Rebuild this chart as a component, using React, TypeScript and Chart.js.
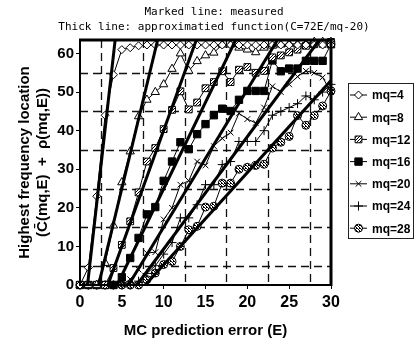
import React, { useEffect, useRef } from 'react';
import { Chart, registerables } from 'chart.js';
import { drawPoint } from 'chart.js/helpers';

Chart.register(...registerables);

// ---------------- data ----------------
const TITLE_LINES = ['Marked line: measured', 'Thick line: approximatied function(C=72E/mq-20)'];
const X_TITLE = 'MC prediction error (E)';
const Y_TITLE = ['Highest frequency location', '(C\u0304(mq,E)  +  \u03C1(mq,E))'];

const SERIES_LABELS = ['mq=4', 'mq=8', 'mq=12', 'mq=16', 'mq=20', 'mq=24', 'mq=28'];

const E_VALUES = [0, 1, 2, 3, 4, 5, 6, 7, 8, 9, 10, 11, 12, 13, 14, 15, 16, 17, 18, 19, 20, 21, 22, 23, 24, 25, 26, 27, 28, 29, 30];

const MQ4 = [0, 4.5, 23, 44, 54.5, 61, 61.5, 62, 62.2, 62.2, 62.2, 62.2, 62.2, 62.2, 62.2, 62.2, 62.2, 62.2, 62.2, 62.2, 62.2, 62.2, 62.2, 62.2, 62.2, 62.2, 62.2, 62.2, 62.2, 62.2, 62.2];
const MQ8 = [0, 0, 0, 5.7, 15.4, 26.6, 34.6, 43.7, 48, 50, 52, 56, 60, 55.5, 58, 59.5, 60.2, 62.3, 62.3, 61.5, 61, 60.3, 61.5, 62, 62.3, 62.5, 62.5, 62.5, 63, 63, 63];
const MQ12 = [0, 0, 0, 0, 4.4, 10.4, 16.5, 24, 32, 35.5, 40.4, 45.4, 50.2, 45.5, 47.3, 51, 52.6, 55.4, 52.6, 55.8, 56.5, 55, 55.5, 59, 59.5, 60.3, 61, 62, 62.4, 62.5, 63];
const MQ16 = [0, 0, 0, 0, 0, 2, 7, 12.2, 18.3, 20.2, 27, 32, 37, 35.2, 39.1, 41.7, 44, 45.7, 45.1, 48, 50.3, 50.3, 50.3, 58.2, 55.4, 56.1, 56.1, 58.1, 58.1, 58.1, 62.4];
const MQ20 = [0, 0, 0, 0, 0, 0, 1.5, 4, 8.3, 8.5, 17, 20, 26, 27, 32, 31, 36, 38, 39.5, 44.5, 43, 42, 46, 51.5, 50, 52, 54, 55.5, 55, 53.8, 50];
const MQ24 = [0, 0, 0, 0, 0, 0, 0, 1, 3, 5, 8, 11, 17.4, 17.4, 20.8, 26, 26, 31.2, 32, 37.2, 37.2, 37.2, 40, 44, 45, 46, 47, 49, 48, 50, 52];
const MQ28 = [0, 0, 0, 0, 0, 0, 0, 0, 1.4, 3.1, 5.3, 6.1, 10, 14.3, 15.2, 20.2, 20.4, 26.4, 26.4, 30, 30.5, 31, 31.3, 35.5, 37, 38.5, 43.9, 41.4, 43.9, 46.4, 50.3];

// thick (approximated) lines: start point (E, C) and end point (E, C)
const FIT_START_E = [0.9, 2.22, 3.33, 4.44, 5.8, 6.8, 7.8];
const FIT_START_C = [0, 0, 0, 0, 0, 0, 0];
const FIT_END_E = [4.2, 9.28, 13.9, 18.6, 23.6, 28.6, 30];
const FIT_END_C = [63.5, 63.5, 63.5, 63.5, 63.5, 63.5, 53];

const X_TICKS = [0, 30, 5];
const Y_TICKS = [0, 63.5, 10];
const GRID_X = [2.5, 7.5, 12.5, 17.5, 22.5, 27.5];
const GRID_Y = [5, 15, 25, 35, 45, 55];

const MARKER_STYLES = ['rectRot', 'triangle', 'rect', 'rect', 'crossRot', 'cross', 'circle'];
const MARKER_RADII = [4, 4.8, 4.8, 5.2, 4, 4.5, 4];

function makePattern(kind: string): CanvasPattern | string {
  const c = document.createElement('canvas');
  c.width = 3;
  c.height = 3;
  const g = c.getContext('2d');
  if (!g) return '#999';
  g.fillStyle = '#fff';
  g.fillRect(0, 0, 3, 3);
  g.fillStyle = '#000';
  if (kind === 'hatch') {
    g.fillRect(0, 0, 1, 1);
    g.fillRect(2, 1, 1, 1);
    g.fillRect(1, 2, 1, 1);
  } else {
    g.fillRect(0, 0, 1, 1);
    g.fillRect(1, 1, 1, 1);
    g.fillRect(2, 2, 1, 1);
    g.fillRect(2, 0, 1, 1);
  }
  const p = g.createPattern(c, 'repeat');
  return p || '#999';
}

export default function App() {
  const ref = useRef<HTMLCanvasElement>(null);

  useEffect(() => {
    document.body.style.margin = '0';
    const canvas = ref.current;
    if (!canvas) return;

    const hatch = makePattern('hatch');
    const dots = makePattern('dots');
    const fills: any[] = ['#fff', '#fff', hatch, '#000', '#000', '#000', dots];
    const series = [MQ4, MQ8, MQ12, MQ16, MQ20, MQ24, MQ28];

    const measured = series.map((arr, k) => ({
      type: 'line' as const,
      label: SERIES_LABELS[k],
      data: E_VALUES.map((e, i) => ({ x: e, y: arr[i] })),
      borderColor: '#000',
      borderWidth: 1,
      pointStyle: MARKER_STYLES[k] as any,
      pointRadius: MARKER_RADII[k],
      pointBackgroundColor: fills[k],
      pointBorderColor: '#000',
      pointBorderWidth: 1,
      tension: 0,
      clip: false as any,
      order: 2,
    }));

    const fits = FIT_START_E.map((_, k) => ({
      type: 'line' as const,
      label: 'fit ' + SERIES_LABELS[k],
      data: [
        { x: FIT_START_E[k], y: FIT_START_C[k] },
        { x: FIT_END_E[k], y: FIT_END_C[k] },
      ],
      borderColor: '#000',
      borderWidth: 3,
      pointRadius: 0,
      tension: 0,
      order: 1,
    }));

    const framePlugin = {
      id: 'frame',
      beforeDatasetsDraw(chart: any) {
        const { ctx, chartArea: a, scales } = chart;
        ctx.save();
        ctx.strokeStyle = '#111';
        ctx.lineWidth = 1.3;
        ctx.setLineDash([8, 5]);
        GRID_X.forEach((v) => {
          const x = Math.round(scales.x.getPixelForValue(v)) + 0.5;
          ctx.beginPath();
          ctx.moveTo(x, a.top);
          ctx.lineTo(x, a.bottom);
          ctx.stroke();
        });
        GRID_Y.forEach((v) => {
          const y = Math.round(scales.y.getPixelForValue(v)) + 0.5;
          ctx.beginPath();
          ctx.moveTo(a.left, y);
          ctx.lineTo(a.right, y);
          ctx.stroke();
        });
        ctx.restore();
      },
      afterDraw(chart: any) {
        const { ctx, chartArea: a } = chart;
        ctx.save();
        ctx.strokeStyle = '#000';
        ctx.setLineDash([]);
        ctx.lineWidth = 3;
        ctx.beginPath();
        ctx.moveTo(a.left - 1, a.top);
        ctx.lineTo(a.right, a.top);
        ctx.lineTo(a.right, a.bottom + 1);
        ctx.stroke();
        ctx.lineWidth = 2;
        ctx.beginPath();
        ctx.moveTo(a.left, a.top);
        ctx.lineTo(a.left, a.bottom);
        ctx.lineTo(a.right, a.bottom);
        ctx.stroke();

        // titles
        ctx.fillStyle = '#000';
        ctx.font = '11px "DejaVu Sans Mono"';
        ctx.textAlign = 'center';
        ctx.textBaseline = 'middle';
        ctx.fillText(TITLE_LINES[0], 214, 12);
        ctx.fillText(TITLE_LINES[1], 214, 27);

        // legend
        const lx = 348;
        const ly = 83;
        const lw = 65;
        const lh = 155;
        ctx.lineWidth = 1;
        ctx.strokeStyle = '#222';
        ctx.strokeRect(lx + 0.5, ly + 0.5, lw, lh);
        ctx.font = 'bold 12px "Liberation Sans", Arial, sans-serif';
        ctx.textAlign = 'left';
        SERIES_LABELS.forEach((lab, k) => {
          const cy = ly + 12 + k * 22.2;
          ctx.strokeStyle = '#000';
          ctx.lineWidth = 1;
          ctx.beginPath();
          ctx.moveTo(lx + 2, cy);
          ctx.lineTo(lx + 19, cy);
          ctx.stroke();
          ctx.fillStyle = fills[k];
          drawPoint(ctx, { pointStyle: MARKER_STYLES[k], radius: MARKER_RADII[k], borderWidth: 1, rotation: 0 } as any, lx + 10.5, cy);
          ctx.fillStyle = '#000';
          ctx.fillText(lab, lx + 24, cy + 1);
        });
        ctx.restore();
      },
    };

    const tickFont = { family: '"Liberation Sans", Arial, sans-serif', size: 15, weight: 'bold' as const };

    const chart = new Chart(canvas, {
      type: 'line',
      data: { datasets: [...fits, ...measured] as any },
      options: {
        animation: false,
        responsive: false,
        devicePixelRatio: 1,
        layout: { padding: { top: 40, right: 83, left: 0, bottom: 0 } },
        plugins: { legend: { display: false }, tooltip: { enabled: false }, title: { display: false } },
        scales: {
          x: {
            type: 'linear',
            min: X_TICKS[0],
            max: X_TICKS[1],
            ticks: { stepSize: X_TICKS[2], color: '#000', font: { ...tickFont, size: 16 }, padding: 4 },
            grid: { display: true, drawOnChartArea: false, drawTicks: true, tickLength: 4, color: '#000' },
            border: { display: false },
            title: {
              display: true,
              text: X_TITLE,
              color: '#000',
              font: { family: '"Liberation Sans", Arial, sans-serif', size: 15, weight: 'bold' },
              padding: { top: 0, bottom: 5 },
            },
            afterFit: (s: any) => {
              s.height = 60;
            },
          },
          y: {
            type: 'linear',
            min: Y_TICKS[0],
            max: Y_TICKS[1],
            ticks: { stepSize: Y_TICKS[2], includeBounds: false, color: '#000', font: tickFont, padding: 2 },
            grid: { display: true, drawOnChartArea: false, drawTicks: true, tickLength: 4, color: '#000' },
            border: { display: false },
            title: {
              display: true,
              text: Y_TITLE,
              color: '#000',
              font: { family: '"Liberation Sans", Arial, sans-serif', size: 15, weight: 'bold', lineHeight: 1.2 },
              padding: { top: 16, bottom: 0 },
            },
            afterFit: (s: any) => {
              s.width = 80;
            },
          },
        },
      },
      plugins: [framePlugin],
    });

    return () => chart.destroy();
  }, []);

  return (
    <div style={{ width: 414, height: 345, background: '#fff' }}>
      <canvas ref={ref} width={414} height={345} style={{ display: 'block' }} />
    </div>
  );
}
